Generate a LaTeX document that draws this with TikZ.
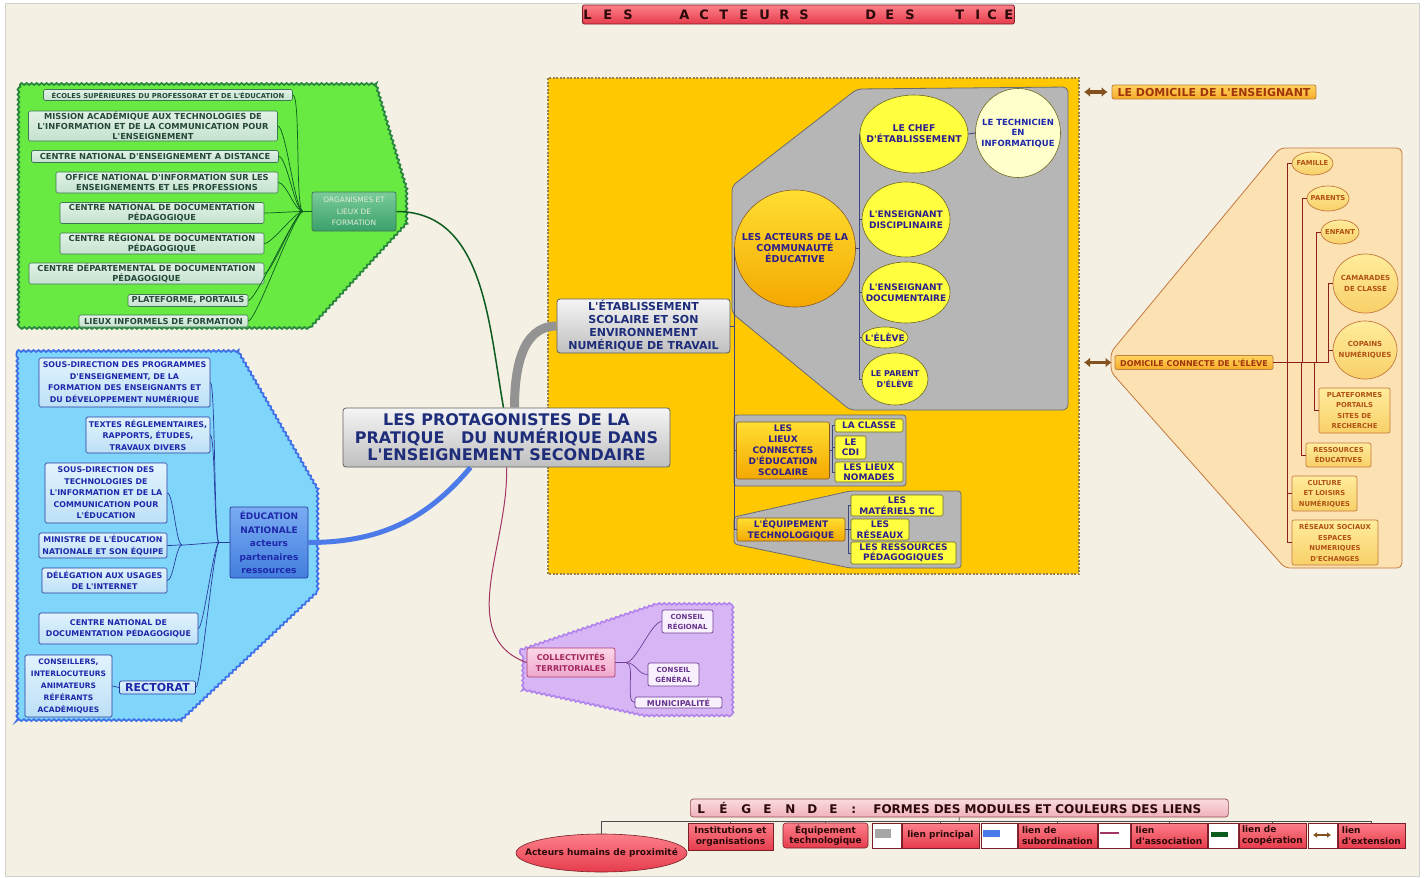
\documentclass[tikz,border=0pt]{standalone}
\usepackage{fontspec}
\setmainfont{DejaVu Sans}[Ligatures=TeXOff]
\usetikzlibrary{arrows.meta, calc, positioning, shapes.geometric, decorations.pathmorphing}

\definecolor{creme}{RGB}{244,240,227}
\definecolor{gfill}{RGB}{104,234,66}
\definecolor{gwave}{RGB}{40,135,60}
\definecolor{gtop}{RGB}{226,242,230}
\definecolor{gbot}{RGB}{196,226,206}
\definecolor{gedge}{RGB}{60,120,80}
\definecolor{gtext}{RGB}{38,72,58}
\definecolor{orgtop}{RGB}{122,204,152}
\definecolor{orgbot}{RGB}{58,160,108}
\definecolor{orgtext}{RGB}{228,236,222}
\definecolor{glien}{RGB}{12,92,32}
\definecolor{bfill}{RGB}{128,214,250}
\definecolor{bwave}{RGB}{62,112,232}
\definecolor{btop}{RGB}{226,243,253}
\definecolor{bbot}{RGB}{188,224,246}
\definecolor{bedge}{RGB}{40,60,160}
\definecolor{btext}{RGB}{30,40,170}
\definecolor{edutop}{RGB}{122,172,242}
\definecolor{edubot}{RGB}{66,126,222}
\definecolor{bleu}{RGB}{76,122,232}
\definecolor{ctext}{RGB}{30,45,122}
\definecolor{jaune}{RGB}{255,200,0}
\definecolor{jbord}{RGB}{150,128,78}
\definecolor{greg}{RGB}{182,182,182}
\definecolor{gregbord}{RGB}{108,108,108}
\definecolor{otop}{RGB}{255,222,50}
\definecolor{obot}{RGB}{244,168,0}
\definecolor{cyel}{RGB}{255,255,64}
\definecolor{cpale}{RGB}{255,255,204}
\definecolor{ytext}{RGB}{44,30,140}
\definecolor{peche}{RGB}{252,226,178}
\definecolor{pbord}{RGB}{196,120,62}
\definecolor{ptop}{RGB}{255,236,156}
\definecolor{pbot}{RGB}{248,208,104}
\definecolor{ptext}{RGB}{176,82,20}
\definecolor{dtop}{RGB}{255,212,96}
\definecolor{dbot}{RGB}{246,170,40}
\definecolor{dtext}{RGB}{160,52,10}
\definecolor{olien}{RGB}{140,30,30}
\definecolor{brun}{RGB}{132,82,30}
\definecolor{mauve}{RGB}{216,182,246}
\definecolor{mwave}{RGB}{176,132,236}
\definecolor{rtop}{RGB}{252,214,232}
\definecolor{rbot}{RGB}{240,168,204}
\definecolor{redge}{RGB}{170,60,112}
\definecolor{rtext}{RGB}{162,40,92}
\definecolor{lilas}{RGB}{248,240,252}
\definecolor{ledge}{RGB}{112,62,152}
\definecolor{ltext}{RGB}{102,52,142}
\definecolor{assoc}{RGB}{162,52,102}
\definecolor{legtop}{RGB}{252,128,138}
\definecolor{legbot}{RGB}{230,60,76}
\definecolor{legedge}{RGB}{122,30,40}
\definecolor{legtext}{RGB}{44,10,10}
\definecolor{legpale}{RGB}{250,218,222}
\definecolor{legpbot}{RGB}{240,178,188}

\newcommand{\fsz}[2]{\fontsize{#1}{#2}\selectfont\bfseries}
\newcommand{\lettre}[2]{\makebox[#1][l]{#2}}

\tikzset{
  sz/.style 2 args={minimum width=#1pt, minimum height=#2pt},
  vague/.style={decorate, decoration={snake, amplitude=0.9pt, segment length=5pt}},
  greenreg/.style={fill=gfill, draw=gwave, line width=1.8pt, vague},
  bluereg/.style={fill=bfill, draw=bwave, line width=1.8pt, vague},
  mauvereg/.style={fill=mauve, draw=mwave, line width=1.6pt, vague},
  grisreg/.style={fill=greg, draw=gregbord, line width=0.8pt, rounded corners=5pt},
  gbox/.style={draw=gedge, line width=0.6pt, rounded corners=1.5pt, top color=gtop, bottom color=gbot, text=gtext, align=center, inner sep=0.5pt, font=\fsz{8.3}{10}},
  orgbox/.style={draw=gedge, line width=0.8pt, rounded corners=2pt, top color=orgtop, bottom color=orgbot, text=orgtext, align=center, inner sep=0.5pt, font=\fontsize{7.4}{11.5}\selectfont},
  bbox/.style={draw=bedge, line width=0.7pt, rounded corners=1.5pt, top color=btop, bottom color=bbot, text=btext, align=center, inner sep=0.5pt, font=\fsz{7.9}{11.5}},
  edubox/.style={draw=bedge, line width=0.7pt, rounded corners=2pt, top color=edutop, bottom color=edubot, text=btext, align=center, inner sep=0.5pt, font=\fsz{9}{13.5}},
  grisbox/.style={draw=gray!75!black, line width=0.8pt, rounded corners=3pt, top color=gray!8, bottom color=gray!50, text=ctext, align=center, inner sep=0.5pt},
  ocircle/.style={ellipse, draw=brown!70!black, line width=0.6pt, top color=otop, bottom color=obot, inner sep=0pt},
  ycircle/.style={ellipse, draw=olive!70!black, line width=0.6pt, fill=cyel, inner sep=0pt},
  clbl/.style={align=center, inner sep=0pt, text=ytext, font=\fsz{9}{11}},
  obox/.style={draw=brown!70!black, line width=0.6pt, rounded corners=2pt, top color=otop, bottom color=obot, text=ytext, align=center, inner sep=0.5pt, font=\fsz{9}{11}},
  ybox/.style={draw=olive!70!black, line width=0.6pt, rounded corners=1.5pt, fill=cyel, text=ytext, align=center, inner sep=0.5pt, font=\fsz{9}{10.5}},
  pitem/.style={draw=pbord, line width=0.7pt, rounded corners=2pt, top color=ptop, bottom color=pbot, text=ptext, align=center, inner sep=0.5pt, font=\fsz{6.8}{10.5}},
  pcircle/.style={ellipse, draw=pbord, line width=0.7pt, top color=ptop, bottom color=pbot, inner sep=0pt},
  plbl/.style={align=center, inner sep=0pt, text=ptext, font=\fsz{6.8}{10.5}},
  dbox/.style={draw=brown, line width=0.8pt, rounded corners=2pt, top color=dtop, bottom color=dbot, text=dtext, align=center, inner sep=0.5pt},
  collbox/.style={draw=redge, line width=0.7pt, rounded corners=2pt, top color=rtop, bottom color=rbot, text=rtext, align=center, inner sep=0.5pt, font=\fsz{8}{11}},
  mitem/.style={draw=ledge, line width=0.7pt, rounded corners=2pt, fill=lilas, text=ltext, align=center, inner sep=0.5pt, font=\fsz{7}{10}},
  legbox/.style={draw=legedge, line width=0.6pt, top color=legtop, bottom color=legbot, text=legtext, align=center, inner sep=0.5pt, font=\fsz{9}{10.5}},
  legwhite/.style={draw=legedge, line width=0.6pt, fill=white, inner sep=0pt},
  glink/.style={draw=glien, line width=0.7pt},
  gmain/.style={draw=glien, line width=1.5pt},
  blink/.style={draw=bedge, line width=0.7pt},
  bmain/.style={draw=bleu, line width=5pt},
  grismain/.style={draw=gray!85, line width=9pt},
  ylink/.style={draw=gray!30!ctext, line width=0.8pt},
  olink/.style={draw=olien, line width=0.7pt},
  mlink/.style={draw=ledge, line width=0.7pt},
  alink/.style={draw=assoc, line width=1pt},
  extarrow/.style={draw=brun, line width=3.5pt, {Latex[length=6pt,width=10pt]}-{Latex[length=6pt,width=10pt]}},
  leglink/.style={draw=gray!60!black, line width=0.7pt}
}

\begin{document}
\begin{tikzpicture}[x=1pt, y=-1pt]
\useasboundingbox (0,0) rectangle (1425,878);
\fill[white] (0,0) rectangle (1425,878);
\draw[fill=creme, draw=gray!35] (5,3) rectangle (1419,876);

% zones
\filldraw[greenreg] (20,84) -- (375,84) -- (406,190) -- (406,224) -- (308,330) -- (20,330) -- cycle;
\filldraw[bluereg] (17,351) -- (238,351) -- (317,488) -- (317,592) -- (180,721) -- (17,721) -- cycle;
\filldraw[mauvereg] (520,650) -- (656,604) -- (729,604) -- (729,716) -- (642,716) -- (520,690) -- cycle;
\draw[fill=jaune, draw=jbord, line width=2pt, dash pattern=on 2pt off 1.5pt] (548,78) rectangle (1079,574);
\draw[grisreg] (732,186) -- (857,89) -- (1068,87) -- (1068,410) -- (850,410) -- (732,313) -- cycle;
\draw[grisreg, rounded corners=3pt] (734,415) rectangle (906,486);
\draw[grisreg, rounded corners=3pt] (734,517) -- (850,491) -- (961,491) -- (961,568) -- (850,568) -- (734,544) -- cycle;
\draw[fill=peche, draw=pbord, line width=0.8pt, rounded corners=5pt] (1280,148) -- (1402,148) -- (1402,568) -- (1285,568) -- (1111,372) -- (1111,352) -- cycle;

\node[draw=legedge, line width=0.8pt, rounded corners=2pt, top color=legtop, bottom color=legbot, text=legtext,
    anchor=west, sz={432}{19}, inner xsep=1pt, text width=430pt, align=left, font=\fsz{13}{15}] (titre) at (582,14.5)
    {\mbox{\lettre{20pt}{L}\lettre{20pt}{E}\lettre{20pt}{S}\hspace{36pt}\lettre{20pt}{A}\lettre{20pt}{C}\lettre{20pt}{T}\lettre{20pt}{E}\lettre{20pt}{U}\lettre{20pt}{R}\lettre{20pt}{S}\hspace{46pt}\lettre{20pt}{D}\lettre{20pt}{E}\lettre{20pt}{S}\hspace{30pt}\lettre{20pt}{T}\lettre{12pt}{I}\lettre{17pt}{C}\lettre{9pt}{E}}};

% organismes
\node[gbox, sz={249}{11}, font=\fsz{6.8}{8}] (ecoles) at (168,95) {ÉCOLES SUPÉRIEURES DU PROFESSORAT ET DE L'ÉDUCATION};
\node[gbox, sz={249}{30}] (mission) at (153,126) {MISSION ACADÉMIQUE AUX TECHNOLOGIES DE\\L'INFORMATION ET DE LA COMMUNICATION POUR\\L'ENSEIGNEMENT};
\node[gbox, sz={247}{12}] (cned) at (155,156.5) {CENTRE NATIONAL D'ENSEIGNEMENT A DISTANCE};
\node[gbox, sz={222}{21}] (onisep) at (167,182.5) {OFFICE NATIONAL D'INFORMATION SUR LES\\ENSEIGNEMENTS ET LES PROFESSIONS};
\node[gbox, sz={204}{21}] (cndp) at (162,213) {CENTRE NATIONAL DE DOCUMENTATION\\PÉDAGOGIQUE};
\node[gbox, sz={204}{21}] (crdp) at (162,243.5) {CENTRE RÉGIONAL DE DOCUMENTATION\\PÉDAGOGIQUE};
\node[gbox, sz={235}{21}] (cddp) at (146.5,273.5) {CENTRE DÉPARTEMENTAL DE DOCUMENTATION\\PÉDAGOGIQUE};
\node[gbox, sz={120}{12}] (plateforme) at (188,300.5) {PLATEFORME, PORTAILS};
\node[gbox, sz={169}{12}] (informels) at (163.5,321) {LIEUX INFORMELS DE FORMATION};
\node[orgbox, sz={84}{39}] (org) at (354,211.5) {ORGANISMES ET\\LIEUX DE\\FORMATION};

% education nationale
\node[bbox, sz={171}{49}] (sdprog) at (124.5,382.5) {SOUS-DIRECTION DES PROGRAMMES\\D'ENSEIGNEMENT, DE LA\\FORMATION DES ENSEIGNANTS ET\\DU DÉVELOPPEMENT NUMÉRIQUE};
\node[bbox, sz={124}{36}] (textes) at (148,435) {TEXTES RÉGLEMENTAIRES,\\RAPPORTS, ÉTUDES,\\TRAVAUX DIVERS};
\node[bbox, sz={122}{60}] (sdtech) at (106,493) {SOUS-DIRECTION DES\\TECHNOLOGIES DE\\L'INFORMATION ET DE LA\\COMMUNICATION POUR\\L'ÉDUCATION};
\node[bbox, sz={128}{25}] (ministre) at (103,545.5) {MINISTRE DE L'ÉDUCATION\\NATIONALE ET SON ÉQUIPE};
\node[bbox, sz={125}{25}] (deleg) at (104.5,580.5) {DÉLÉGATION AUX USAGES\\DE L'INTERNET};
\node[bbox, sz={159}{31}] (cndpb) at (118.5,628.5) {CENTRE NATIONAL DE\\DOCUMENTATION PÉDAGOGIQUE};
\node[bbox, sz={87}{62}, font=\fsz{7.5}{12}] (cons) at (68.5,686) {CONSEILLERS,\\INTERLOCUTEURS\\ANIMATEURS\\RÉFÉRANTS\\ACADÉMIQUES};
\node[bbox, sz={76}{13}, font=\fsz{11}{12}] (rect) at (157.5,687.5) {RECTORAT};
\node[edubox, sz={78}{71}] (edu) at (269,542.5) {ÉDUCATION\\NATIONALE\\acteurs\\partenaires\\ressources};

% centre
\node[grisbox, sz={327}{59}, font=\fsz{16}{17.5}] (central) at (506.5,437.5) {LES PROTAGONISTES DE LA\\PRATIQUE\ \ \ DU NUMÉRIQUE DANS\\L'ENSEIGNEMENT SECONDAIRE};
\node[grisbox, sz={173}{54}, font=\fsz{11}{13}] (etab) at (643.5,326) {L'ÉTABLISSEMENT\\SCOLAIRE ET SON\\ENVIRONNEMENT\\NUMÉRIQUE DE TRAVAIL};

% communaute educative
\node[ocircle, sz={121}{117}, label={[clbl, font=\fsz{9.5}{11}]center:LES ACTEURS DE LA\\COMMUNAUTÉ\\ÉDUCATIVE}] (acteurs) at (795,248.5) {};
\node[ycircle, sz={108}{78}, label={[clbl, font=\fsz{9.3}{11}]center:LE CHEF\\D'ÉTABLISSEMENT}] (chef) at (914,134) {};
\node[ycircle, sz={85}{89}, fill=cpale, label={[clbl, text=btext, font=\fsz{8.5}{10.5}]center:LE TECHNICIEN\\EN\\INFORMATIQUE}] (tech) at (1018,133) {};
\node[ycircle, sz={88}{75}, label={[clbl]center:L'ENSEIGNANT\\DISCIPLINAIRE}] (disc) at (906,219.5) {};
\node[ycircle, sz={88}{61}, label={[clbl]center:L'ENSEIGNANT\\DOCUMENTAIRE}] (doc) at (906,292.5) {};
\node[ycircle, sz={46}{21}, label={[clbl]center:L'ÉLÈVE}] (eleve) at (885,337.5) {};
\node[ycircle, sz={66}{52}, label={[clbl, font=\fsz{8}{10.5}]center:LE PARENT\\D'ÉLÈVE}] (parent) at (895,379) {};

\node[obox, sz={93}{57}] (lieux) at (783,450.5) {LES\\LIEUX\\CONNECTES\\D'ÉDUCATION\\SCOLAIRE};
\node[ybox, sz={68}{13}] (classe) at (869,425.5) {LA CLASSE};
\node[ybox, sz={31}{23}] (cdi) at (850.5,447.5) {LE\\CDI};
\node[ybox, sz={68}{20}] (nomades) at (869,472) {LES LIEUX\\NOMADES};

\node[obox, sz={108}{23}] (equip) at (791,529.5) {L'ÉQUIPEMENT\\TECHNOLOGIQUE};
\node[ybox, sz={92}{21}] (materiels) at (897,505.5) {LES\\MATÉRIELS TIC};
\node[ybox, sz={58}{21}] (reseaux) at (880,529.5) {LES\\RÉSEAUX};
\node[ybox, sz={105}{22}] (ressources) at (903.5,553) {LES RESSOURCES\\PÉDAGOGIQUES};

% domiciles
\node[dbox, sz={204}{14}, font=\fsz{11}{12}] (domens) at (1214,92) {LE DOMICILE DE L'ENSEIGNANT};
\node[dbox, sz={158}{14}, font=\fsz{8}{10}] (domel) at (1194,362.5) {DOMICILE CONNECTE DE L'ÉLÈVE};
\node[pcircle, sz={41}{23}, label={[plbl]center:FAMILLE}] (famille) at (1312.5,163.5) {};
\node[pcircle, sz={42}{25}, label={[plbl]center:PARENTS}] (parents) at (1328,198.5) {};
\node[pcircle, sz={38}{24}, label={[plbl]center:ENFANT}] (enfant) at (1340,232) {};
\node[pcircle, sz={65}{59}, label={[plbl, font=\fsz{7}{10.5}]center:CAMARADES\\DE CLASSE}] (camarades) at (1365.5,283.5) {};
\node[pcircle, sz={64}{58}, label={[plbl, font=\fsz{7}{10.5}]center:COPAINS\\NUMÉRIQUES}] (copains) at (1365,350) {};
\node[pitem, sz={71}{45}] (plateformes) at (1354.5,410.5) {PLATEFORMES\\PORTAILS\\SITES DE\\RECHERCHE};
\node[pitem, sz={65}{24}] (ressed) at (1338.5,455) {RESSOURCES\\ÉDUCATIVES};
\node[pitem, sz={65}{35}] (culture) at (1324.5,493.5) {CULTURE\\ET LOISIRS\\NUMÉRIQUES};
\node[pitem, sz={86}{45}] (sociaux) at (1335,542.5) {RÉSEAUX SOCIAUX\\ESPACES\\NUMERIQUES\\D'ECHANGES};

% collectivites
\node[collbox, sz={88}{29}] (coll) at (571,662.5) {COLLECTIVITÉS\\TERRITORIALES};
\node[mitem, sz={51}{23}] (creg) at (687.5,621.5) {CONSEIL\\RÉGIONAL};
\node[mitem, sz={51}{23}] (cgen) at (673.5,674.5) {CONSEIL\\GÉNÉRAL};
\node[mitem, sz={87}{11}, font=\fsz{8}{9}] (mun) at (678.5,702.5) {MUNICIPALITÉ};

% legende
\node[draw=legedge!80, line width=0.7pt, rounded corners=3pt, top color=legpale, bottom color=legpbot, text=legtext,
    anchor=west, sz={538}{18}, inner xsep=7pt, text width=524pt, align=left, font=\fsz{12}{14}] (legende) at (690,808)
    {\mbox{\lettre{22pt}{L}\lettre{22pt}{É}\lettre{22pt}{G}\lettre{22pt}{E}\lettre{22pt}{N}\lettre{22pt}{D}\lettre{22pt}{E}\lettre{22pt}{:}FORMES DES MODULES ET COULEURS DES LIENS}};
\node[legbox, ellipse, inner sep=0pt, sz={171}{38}, label={[text=legtext, font=\fsz{9}{10.5}]center:Acteurs humains de proximité}] (lhum) at (601.5,853) {};
\node[legbox, sz={85}{27}] (linst) at (730.5,836.5) {Institutions et\\organisations};
\node[legbox, rounded corners=3pt, sz={85}{25}] (lequip) at (825.5,835.5) {Équipement\\technologique};
\node[legwhite, sz={29}{25}, anchor=west] (lprincw) at (872,835.5) {};
\node[legbox, sz={77}{25}, right=0pt of lprincw] (lprinc) {lien principal};
\node[legwhite, sz={36}{25}, anchor=west] (lsubw) at (981,835.5) {};
\node[legbox, sz={79}{25}, align=left, right=0pt of lsubw] (lsub) {lien de\\subordination};
\node[legwhite, sz={32}{25}, anchor=west] (lassow) at (1098,835.5) {};
\node[legbox, sz={76}{25}, align=left, right=0pt of lassow] (lasso) {lien\\d'association};
\node[legwhite, sz={30}{25}, anchor=west] (lcoopw) at (1208,835.5) {};
\node[legbox, sz={67}{25}, align=left, right=0pt of lcoopw] (lcoop) {lien de\\coopération};
\node[legwhite, sz={29}{25}, anchor=west] (lextw) at (1308,835.5) {};
\node[legbox, sz={67}{25}, align=left, right=0pt of lextw] (lext) {lien\\d'extension};

\fill[gray!70] (875,829) rectangle (891,838);
\fill[bleu] (983,830) rectangle (1000,837);
\draw[assoc, line width=1.5pt] (1100,833) -- (1119,833);
\fill[glien] (1211,832) rectangle (1228,837);
\draw[brun, line width=2pt, {Latex[length=4pt,width=6pt]}-{Latex[length=4pt,width=6pt]}] (1313,835) -- (1331,835);

% liens principaux
\draw[gmain] (org.east) to[out=0,in=100] ([xshift=-3pt]central.north);
\draw[bmain] (edu.east) to[out=0,in=230] ([xshift=-36pt]central.south);
\draw[grismain] ([xshift=8pt]central.north) to[out=90,in=180] (etab.west);
\draw[alink] (central.south) to[out=-88,in=160] (coll.west);

% arbre vert
\coordinate (gj) at (303,211.5);
\draw[glink] (org.west) -- (gj);
\draw[glink] (gj) .. controls +(-8,0) and +(8,0) .. (ecoles.east);
\draw[glink] (gj) .. controls +(-8,0) and +(8,0) .. (mission.east);
\draw[glink] (gj) .. controls +(-8,0) and +(8,0) .. (cned.east);
\draw[glink] (gj) .. controls +(-8,0) and +(8,0) .. (onisep.east);
\draw[glink] (gj) .. controls +(-8,0) and +(8,0) .. (cndp.east);
\draw[glink] (gj) .. controls +(-8,0) and +(8,0) .. (crdp.east);
\draw[glink] (gj) .. controls +(-8,0) and +(8,0) .. (cddp.east);
\draw[glink] (gj) .. controls +(-8,0) and +(8,0) .. (plateforme.east);
\draw[glink] (gj) .. controls +(-8,0) and +(8,0) .. (informels.east);

% arbre bleu
\coordinate (bj) at (219,542.5);
\coordinate (mj) at (182,545);
\draw[blink] (edu.west) -- (bj);
\draw[blink] (bj) .. controls +(-5,0) and +(5,0) .. (sdprog.east);
\draw[blink] (bj) .. controls +(-5,0) and +(5,0) .. (textes.east);
\draw[blink] (bj) .. controls +(-8,0) and +(8,0) .. (mj);
\draw[blink] (bj) .. controls +(-5,0) and +(5,0) .. (cndpb.east);
\draw[blink] (bj) .. controls +(-5,0) and +(5,0) .. (rect.east);
\draw[blink] (mj) .. controls +(-6,0) and +(6,0) .. (sdtech.east);
\draw[blink] (mj) .. controls +(-6,0) and +(6,0) .. (ministre.east);
\draw[blink] (mj) .. controls +(-6,0) and +(6,0) .. (deleg.east);
\draw[blink] (rect.west) -- (cons.east);

% arbre etablissement
\coordinate (ej) at (734,326);
\draw[ylink] (etab.east) -- (ej);
\draw[ylink] (ej) |- (acteurs.west);
\draw[ylink] (ej) |- (lieux.west);
\draw[ylink] (ej) |- (equip.west);
\coordinate (aj) at (859,248.5);
\draw[ylink] (acteurs.east) -- (aj);
\draw[ylink] (aj) |- (chef.west);
\draw[ylink] (aj) |- (disc.west);
\draw[ylink] (aj) |- (doc.west);
\draw[ylink] (aj) |- (eleve.west);
\draw[ylink] (aj) |- (parent.west);
\draw[ylink] (chef.east) -- (tech.west);
\coordinate (lj) at (832.5,450.5);
\draw[ylink] (lieux.east) -- (lj);
\draw[ylink] (lj) |- (classe.west);
\draw[ylink] (lj) |- (cdi.west);
\draw[ylink] (lj) |- (nomades.west);
\coordinate (qj) at (848,529.5);
\draw[ylink] (equip.east) -- (qj);
\draw[ylink] (qj) |- (materiels.west);
\draw[ylink] (qj) |- (reseaux.west);
\draw[ylink] (qj) |- (ressources.west);

% arbre domicile
\coordinate (oj) at (1282,362.5);
\draw[olink] (domel.east) -- (oj);
\draw[olink] (oj) -| ([xshift=-4pt]famille.west) -- (famille.west);
\draw[olink] (oj) -| ([xshift=-4pt]parents.west) -- (parents.west);
\draw[olink] (oj) -| ([xshift=-4pt]enfant.west) -- (enfant.west);
\draw[olink] (oj) -| ([xshift=-4pt]camarades.west) -- (camarades.west);
\draw[olink] (oj) -| ([xshift=-4pt]copains.west) -- (copains.west);
\draw[olink] (oj) -| ([xshift=-4pt]plateformes.west) -- (plateformes.west);
\draw[olink] (oj) -| ([xshift=-4pt]ressed.west) -- (ressed.west);
\draw[olink] (oj) -| ([xshift=-4pt]culture.west) -- (culture.west);
\draw[olink] (oj) -| ([xshift=-4pt]sociaux.west) -- (sociaux.west);

\coordinate (ext1) at (1084,92);
\coordinate (ext2) at (1084,362.5);
\draw[extarrow] (ext1) -- ([xshift=-4pt]domens.west);
\draw[extarrow] (ext2) -- ([xshift=-3pt]domel.west);

% arbre collectivites
\coordinate (pj) at (626,662.5);
\draw[mlink] (coll.east) -- (pj);
\draw[mlink] (pj) .. controls +(10,0) and +(-10,0) .. (creg.west);
\draw[mlink] (pj) .. controls +(10,0) and +(-10,0) .. (cgen.west);
\draw[mlink] (pj) .. controls +(10,0) and +(-10,0) .. (mun.west);

% bus de legende
\coordinate (bus) at (959,821);
\draw[leglink] (legende.south) -- (bus);
\draw[leglink] (bus) -| (lhum.north);
\draw[leglink] (bus) -| (linst.north);
\draw[leglink] (bus) -| (lequip.north);
\draw[leglink] (bus) -| (lprinc.north);
\draw[leglink] (bus) -| (lsub.north);
\draw[leglink] (bus) -| (lasso.north);
\draw[leglink] (bus) -| (lcoop.north);
\draw[leglink] (bus) -| (lext.north);

\end{tikzpicture}
\end{document}
